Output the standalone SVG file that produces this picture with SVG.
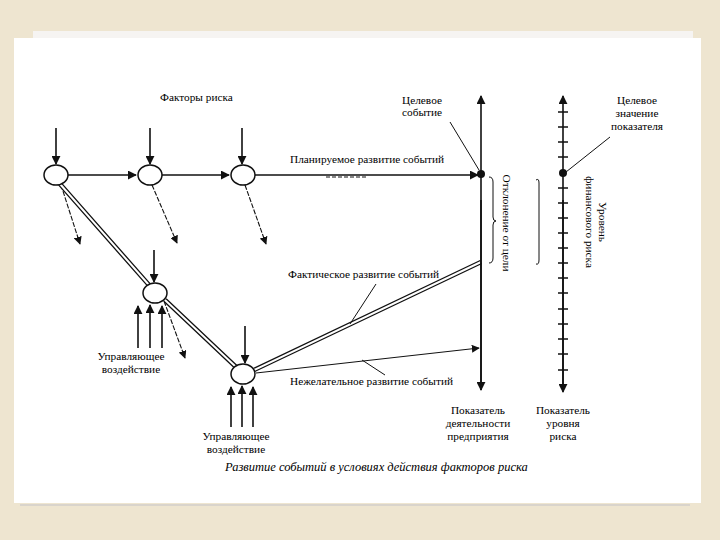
<svg xmlns="http://www.w3.org/2000/svg" width="720" height="540" viewBox="0 0 720 540">
<defs>
<marker id="ah" viewBox="0 0 10 10" refX="9" refY="5" markerWidth="9" markerHeight="9" markerUnits="userSpaceOnUse" orient="auto"><path d="M0,0 L10,5 L0,10 z" fill="#111"/></marker>
<marker id="ahs" viewBox="0 0 10 10" refX="9" refY="5" markerWidth="8" markerHeight="8" markerUnits="userSpaceOnUse" orient="auto"><path d="M0,0 L10,5 L0,10 z" fill="#111"/></marker>
<style>
.t{font-family:"Liberation Serif","DejaVu Serif",serif;font-size:11.3px;fill:#000}
.c{text-anchor:middle}
.ln{stroke:#111;stroke-width:1.6;fill:none}
.th{stroke:#111;stroke-width:1;fill:none}
.dl{stroke:#111;stroke-width:1.1;fill:none;stroke-dasharray:5 1.5}
.dbo{stroke:#111;stroke-width:4.6;fill:none}
.dbi{stroke:#fff;stroke-width:2;fill:none}
.nd{fill:#fff;stroke:#111;stroke-width:1.5}
.tk{stroke:#111;stroke-width:1.6}
</style>
</defs>
<rect x="0" y="0" width="720" height="540" fill="#eee5d0"/>
<rect x="33" y="31" width="660" height="10" fill="#f6f4f2"/>
<rect x="14" y="38" width="687" height="465" fill="#ffffff"/>
<line x1="20" y1="505" x2="690" y2="505" stroke="#d9d4cc" stroke-width="2"/>

<g id="connectors">
<line class="ln" x1="68" y1="175" x2="136" y2="175" marker-end="url(#ah)"/>
<line class="ln" x1="162" y1="175" x2="229" y2="175" marker-end="url(#ah)"/>
<line class="ln" x1="255" y1="175" x2="478" y2="175" marker-end="url(#ah)"/>
<line x1="326" y1="177" x2="366" y2="177" stroke="#111" stroke-width="1" stroke-dasharray="4 2"/>
<line class="ln" x1="56" y1="128" x2="56" y2="164" marker-end="url(#ah)"/>
<line class="ln" x1="150" y1="128" x2="150" y2="164" marker-end="url(#ah)"/>
<line class="ln" x1="242" y1="128" x2="242" y2="164" marker-end="url(#ah)"/>
<line class="ln" x1="154" y1="250" x2="154" y2="282" marker-end="url(#ah)"/>
<line class="ln" x1="245" y1="326" x2="245" y2="363" marker-end="url(#ah)"/>
<line class="dl" x1="61" y1="185" x2="80" y2="244" marker-end="url(#ahs)"/>
<line class="dl" x1="152" y1="185" x2="177" y2="243" marker-end="url(#ahs)"/>
<line class="dl" x1="245" y1="185" x2="266" y2="244" marker-end="url(#ahs)"/>
<line class="dl" x1="164" y1="301" x2="185" y2="358" marker-end="url(#ahs)"/>
<path class="dbo" d="M60,184 L149,285 M165,300 L236,367 M254,370 L481,262"/>
<path class="dbi" d="M60,184 L149,285 M165,300 L236,367 M254,370 L481,262"/>
<line class="th" x1="256" y1="373" x2="479" y2="348" marker-end="url(#ahs)"/>
<line class="ln" x1="138" y1="348" x2="138" y2="306" marker-end="url(#ah)"/>
<line class="ln" x1="150" y1="348" x2="150" y2="305" marker-end="url(#ah)"/>
<line class="ln" x1="162" y1="348" x2="162" y2="306" marker-end="url(#ah)"/>
<line class="ln" x1="231" y1="427" x2="231" y2="387" marker-end="url(#ah)"/>
<line class="ln" x1="242" y1="427" x2="242" y2="386" marker-end="url(#ah)"/>
<line class="ln" x1="253" y1="427" x2="253" y2="387" marker-end="url(#ah)"/>
<line class="th" x1="450" y1="122" x2="479" y2="170"/>
<line class="th" x1="610" y1="137" x2="566" y2="172" stroke-width="1.4"/>
<line class="th" x1="376" y1="284" x2="350" y2="324"/>
<line class="th" x1="385" y1="375" x2="362" y2="360"/>
</g>

<g id="axis-activity">
<line class="ln" x1="481" y1="390" x2="481" y2="96" marker-end="url(#ah)"/>
<line class="ln" x1="481" y1="200" x2="481" y2="390" marker-end="url(#ah)"/>
<circle cx="481" cy="174" r="4" fill="#111"/>
<path class="th" d="M489,177 q4,0 4,5 V217 q0,4 3,4 q-3,0 -3,4 V258 q0,5 -4,5"/>
</g>

<g id="axis-risk">
<line class="ln" x1="563" y1="390" x2="563" y2="96" marker-end="url(#ah)"/>
<line class="ln" x1="563" y1="200" x2="563" y2="392" marker-end="url(#ah)"/>
<path class="tk" d="M558,112h10M558,127h10M558,142h10M558,157h10M558,188h10M558,203h10M558,218h10M558,233h10M558,248h10M558,263h10M558,278h10M558,293h10M558,309h10M558,324h10M558,339h10M558,354h10M558,370h10"/>
<circle cx="563" cy="173" r="4" fill="#111"/>
<path class="th" d="M536,180 q3,-2 3,3 V260 q0,5 -3,4"/>
</g>

<g id="nodes">
<g id="n1"><ellipse class="nd" cx="56" cy="175" rx="12" ry="10"/></g>
<g id="n2"><ellipse class="nd" cx="150" cy="175" rx="12" ry="10"/></g>
<g id="n3"><ellipse class="nd" cx="243" cy="175" rx="12" ry="10"/></g>
<g id="n4"><ellipse class="nd" cx="155" cy="293" rx="12" ry="10"/></g>
<g id="n5"><ellipse class="nd" cx="243" cy="374" rx="12" ry="10"/></g>
</g>

<g id="labels">
<text class="t" x="160" y="101">Факторы риска</text>
<text class="t c" x="422" y="104">Целевое</text>
<text class="t c" x="422" y="116">событие</text>
<text class="t" x="290" y="163">Планируемое развитие событий</text>
<text class="t c" x="637" y="104">Целевое</text>
<text class="t c" x="637" y="117">значение</text>
<text class="t c" x="637" y="130">показателя</text>
<text class="t c" transform="translate(503,223) rotate(90)">Отклонение от цели</text>
<text class="t c" transform="translate(599,222) rotate(90)">Уровень</text>
<text class="t c" transform="translate(586,222) rotate(90)">финансового риска</text>
<text class="t" x="288" y="278">Фактическое развитие событий</text>
<text class="t" x="290" y="385">Нежелательное развитие событий</text>
<text class="t c" x="131" y="360">Управляющее</text>
<text class="t c" x="131" y="373">воздействие</text>
<text class="t c" x="236" y="440">Управляющее</text>
<text class="t c" x="236" y="453">воздействие</text>
<text class="t c" x="478" y="414">Показатель</text>
<text class="t c" x="478" y="427">деятельности</text>
<text class="t c" x="478" y="440">предприятия</text>
<text class="t c" x="563" y="414">Показатель</text>
<text class="t c" x="563" y="427">уровня</text>
<text class="t c" x="563" y="440">риска</text>
<text class="t" x="225" y="471" style="font-style:italic;font-size:12.5px">Развитие событий в условиях действия факторов риска</text>
</g>
</svg>
